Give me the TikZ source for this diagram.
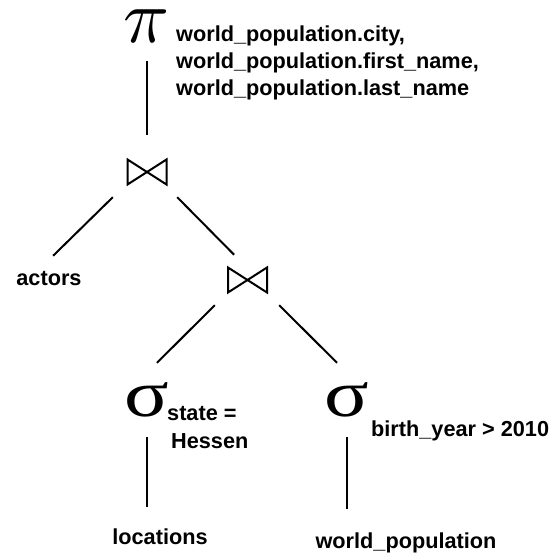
\documentclass[tikz,border=0pt]{standalone}
\usepackage{fontspec}
\setmainfont{Liberation Sans}
\newfontfamily\grk{Liberation Serif}
\begin{document}
\begin{tikzpicture}[x=1pt,y=-1pt,
  lbl/.style={font=\fontsize{21.7}{28}\selectfont\bfseries, inner sep=0pt},
  plbl/.style={font=\fontsize{21.7}{27}\selectfont\bfseries, inner sep=0pt, align=left},
  op/.style={font=\fontsize{72}{72}\selectfont\grk, inner sep=0pt, minimum width=40pt},
  edge/.style={line width=2pt},
  bowtie/.style={minimum width=64pt, minimum height=50pt, inner sep=0pt,
    path picture={\draw[line width=2pt, line join=miter]
      ([shift={(#1-19.5pt,-12.5pt)}]path picture bounding box.center) --
      ([shift={(#1-19.5pt,12.5pt)}]path picture bounding box.center) --
      ([shift={(#1+19.5pt,-12.5pt)}]path picture bounding box.center) --
      ([shift={(#1+19.5pt,12.5pt)}]path picture bounding box.center) -- cycle;}}]
\useasboundingbox (0,0) rectangle (552,555);

\node[inner sep=0pt, minimum height=44pt] (pi) at (147,26) {\scalebox{7.6}{$\pi$}};
\node[plbl, anchor=north west] (proj) at (176,26) {world\_population.city,\\world\_population.first\_name,\\world\_population.last\_name};

\node[bowtie=2pt] (j1) at (145,172) {};
\node[bowtie=0.5pt] (j2) at (247,280) {};

\node[lbl, minimum height=46pt] (actors) at (49,279) {actors};

\node[op, minimum height=74pt] (s1) at (147,400) {\scalebox{1.15}[0.92]{σ}};
\node[lbl, align=left, anchor=north west] (s1c) at (167,406) {state =\\\hspace*{4pt}Hessen};
\node[op, minimum height=74pt] (s2) at (347,400) {\scalebox{1.15}[0.92]{σ}};
\node[lbl, anchor=base west] (s2c) at (371,436) {birth\_year > 2010};

\node[lbl, minimum height=60pt] (loc) at (160,537) {locations};
\node[lbl, minimum height=68pt] (wp) at (406,543) {world\_population};

\draw[edge, shorten <=13pt, shorten >=12pt] (pi.south) -- (pi.south |- j1.north);
\draw[edge] (j1.south west) -- (actors.80);
\draw[edge] (j1.south east) -- (j2.117);
\draw[edge] (j2.south west) -- (s1.75);
\draw[edge] (j2.south east) -- (s2.105);
\draw[edge] (s1.south) -- (s1.south |- loc.north);
\draw[edge] (s2.south) -- (s2.south |- wp.north);
\end{tikzpicture}
\end{document}
